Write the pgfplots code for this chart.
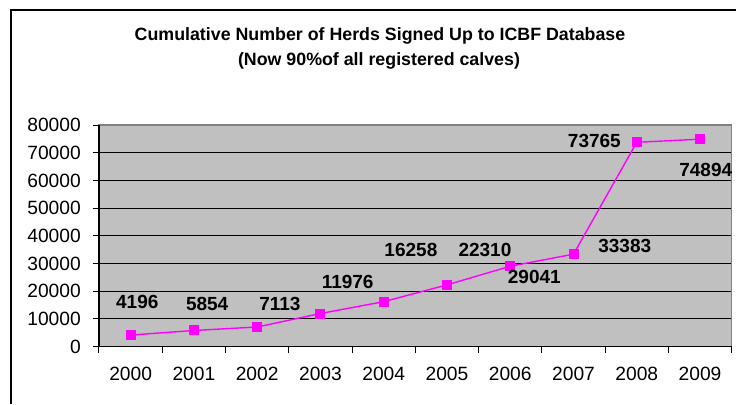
\documentclass[border=0pt]{standalone}
\usepackage{fontspec}
\setmainfont{Liberation Sans}
\usepackage{pgfplots}
\pgfplotsset{compat=1.18}

\definecolor{plotgray}{HTML}{C0C0C0}
\definecolor{framegray}{HTML}{808080}
\definecolor{herds}{HTML}{FF00FF}

\begin{document}
\begin{tikzpicture}
  % page = 736x404 px, 1px = 0.5pt, origin at the axis' lower left corner
  \useasboundingbox (-49.5pt,-28.65pt) rectangle (318.5pt,173.35pt);
  \draw[line width=0.6pt] (-44pt,-28.65pt) -- (-44pt,168.35pt) -- (318.5pt,168.35pt);

  \node[anchor=base,font=\bfseries\fontsize{8.9}{10}\selectfont] at (140.5pt,153.3pt)
    {Cumulative Number of Herds Signed Up to ICBF Database};
  \node[anchor=base,font=\bfseries\fontsize{8.9}{10}\selectfont] at (140pt,140.85pt)
    {(Now 90\%of all registered calves)};

  \begin{axis}[
      scale only axis,
      width=316.35pt, height=110.85pt,
      xmin=-0.5, xmax=9.5,
      ymin=0, ymax=80000,
      axis background/.style={fill=plotgray},
      axis line style={draw=framegray, line width=0.6pt},
      xtick={-0.5,0.5,...,9.5},
      x tick label as interval,
      xticklabels={2000,2001,2002,2003,2004,2005,2006,2007,2008,2009},
      ytick={0,10000,...,70000},
      extra y ticks={80000},
      extra y tick style={grid=none},
      ymajorgrids,
      grid style={black, line width=0.5pt},
      xtick pos=bottom, ytick pos=left,
      tick align=outside,
      major tick length=3pt,
      tick style={black, line width=0.5pt},
      scaled y ticks=false,
      /pgf/number format/.cd, 1000 sep={}, assume math mode=true,
      /pgfplots/.cd,
      ticklabel style={font=\fontsize{9.6}{11}\selectfont},
      yticklabel style={xshift=-2.6pt},
      xticklabel style={yshift=-3.6pt},
      clip=false,
    ]
    \addplot[herds, line width=0.7pt, mark=square*, mark size=2.15pt,
             mark options={fill=herds, draw=herds}]
      coordinates {
        (0,4196) (1,5854) (2,7113) (3,11976) (4,16258)
        (5,22310) (6,29041) (7,33383) (8,73765) (9,74894)
      };
    % data labels, where Excel put them
    \addplot[draw=none, mark=none, nodes near coords, point meta=explicit symbolic,
             nodes near coords align=center,
             every node near coord/.append style={font=\bfseries\fontsize{9.5}{11}\selectfont, black}]
      table[meta=label] {
        x     y      label
        0.105 16250  4196
        1.21  15400  5854
        2.36  15400  7113
        3.43  23250  11976
        4.43  34900  16258
        5.60  34900  22310
        6.38  25050  29041
        7.81  36450  33383
        7.33  74400  73765
        9.09  63800  74894
      };
    \draw[black, line width=0.6pt] (rel axis cs:0,1) -- (rel axis cs:0,0) -- (rel axis cs:1,0);
  \end{axis}
\end{tikzpicture}
\end{document}
